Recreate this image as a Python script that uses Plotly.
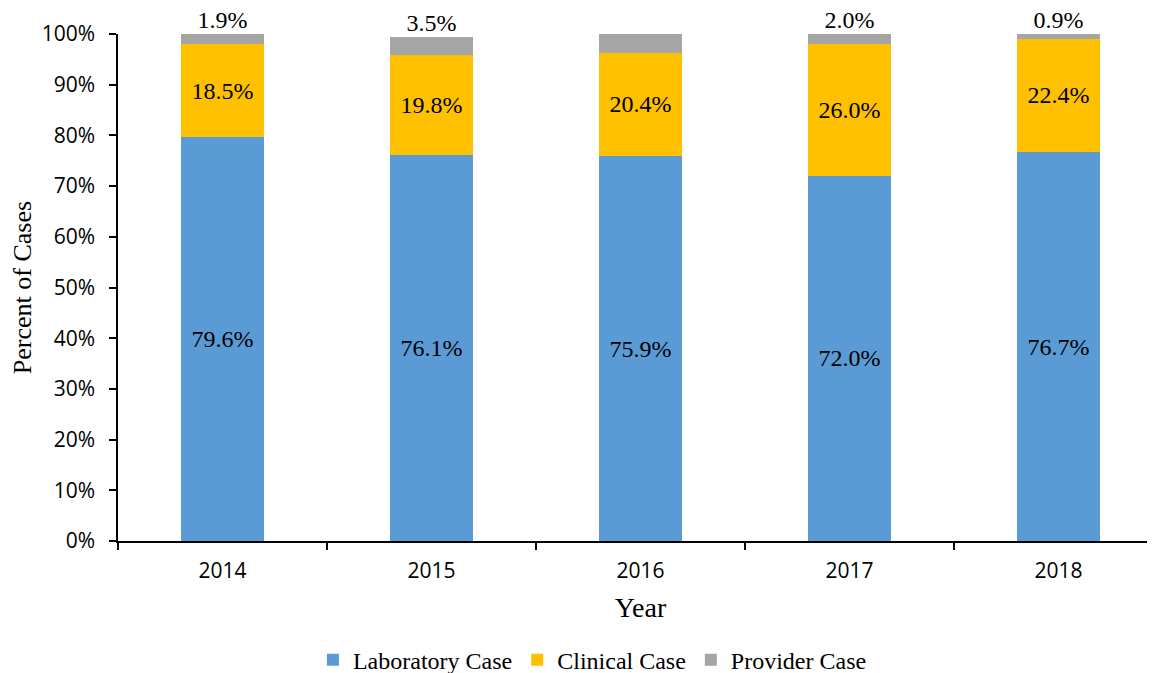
import plotly.graph_objects as go

# data
YEARS = ["2014", "2015", "2016", "2017", "2018"]
LAB = [79.6, 76.1, 75.9, 72.0, 76.7]
CLINICAL = [18.5, 19.8, 20.4, 26.0, 22.4]
PROVIDER = [1.9, 3.5, 3.7, 2.0, 0.9]
Y_TICKS = list(range(0, 101, 10))
Y_TICK_TEXT = [f"{v}%" for v in Y_TICKS]

BLUE = "#5B9BD5"
GOLD = "#FFC000"
GREY = "#A5A5A5"
SERIF = "Liberation Serif, Times New Roman, serif"
SANS = "Open Sans, Lato, sans-serif"

fig = go.Figure()
series = [
    ("Laboratory Case", LAB, BLUE),
    ("Clinical Case", CLINICAL, GOLD),
    ("Provider Case", PROVIDER, GREY),
]
for name, vals, color in series:
    inside = name != "Provider Case"
    fig.add_trace(go.Bar(
        x=YEARS, y=vals, name=name, width=0.4,
        marker=dict(color=color, line=dict(width=0)),
        texttemplate="%{y:.1f}%" if inside else None,
        textposition="inside" if inside else "none",
        insidetextanchor="middle", constraintext="none",
        textfont=dict(family=SERIF, size=24, color="black"),
    ))

# provider labels sit just above each stack
tops = [a + b + c for a, b, c in zip(LAB, CLINICAL, PROVIDER)]
fig.add_trace(go.Scatter(
    x=YEARS, y=tops, mode="text", text=[f"{v:.1f}%" for v in PROVIDER],
    textposition="top center", cliponaxis=False, showlegend=False, hoverinfo="skip",
    textfont=dict(family=SERIF, size=24, color="black"),
))

# page body adds ~8px offset, so margins are trimmed to match
fig.update_layout(
    width=1155, height=665,
    barmode="stack",
    paper_bgcolor="white", plot_bgcolor="white",
    margin=dict(l=110, r=0, t=26, b=132, autoexpand=False),
    showlegend=True,
    legend=dict(orientation="h", x=0.454, xanchor="center", y=-0.235, yanchor="middle",
                font=dict(family=SERIF, size=24, color="black"),
                traceorder="normal"),
)
fig.update_xaxes(
    range=[-0.5, 4.5], automargin=False, showline=True, linecolor="black", linewidth=1.5,
    ticks="outside", tickson="boundaries", ticklen=7, tickcolor="black", tickwidth=1.5,
    ticklabelstandoff=10,
    tickfont=dict(family=SANS, size=21, color="black"),
    title=dict(text="Year", font=dict(family=SERIF, size=28, color="black"), standoff=14),
    showgrid=False,
)
fig.update_yaxes(
    range=[0, 100], tickmode="array", tickvals=Y_TICKS, ticktext=Y_TICK_TEXT,
    automargin=False, showline=True, linecolor="black", linewidth=1.5,
    ticks="outside", ticklen=7, tickcolor="black", tickwidth=1.5,
    ticklabelstandoff=10,
    tickfont=dict(family=SANS, size=21, color="black"),
    title=dict(text="Percent of Cases", font=dict(family=SERIF, size=26, color="black"), standoff=8),
    showgrid=False, zeroline=False,
)

fig.write_html("out.html")
